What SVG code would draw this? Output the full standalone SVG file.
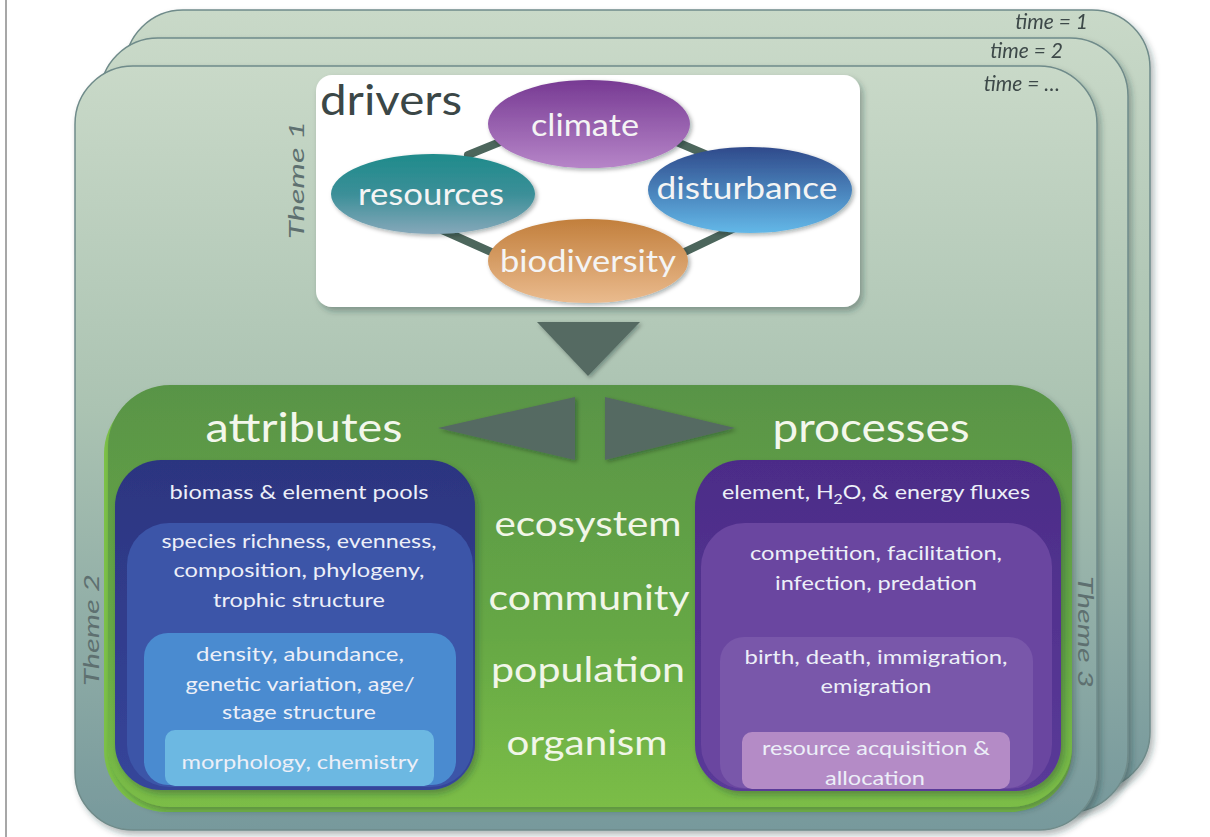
<svg xmlns="http://www.w3.org/2000/svg" width="1210" height="837" viewBox="0 0 1210 837">
<defs>
<linearGradient id="gCard" x1="0" y1="0" x2="0" y2="1">
<stop offset="0" stop-color="#c9d9c8"/><stop offset="0.45" stop-color="#abc3b2"/><stop offset="1" stop-color="#77999c"/>
</linearGradient>
<linearGradient id="gGreen" x1="0" y1="0" x2="0" y2="1">
<stop offset="0" stop-color="#599446"/><stop offset="0.6" stop-color="#66a845"/><stop offset="1" stop-color="#7bbd46"/>
</linearGradient>
<linearGradient id="gClimate" x1="0" y1="0" x2="0" y2="1">
<stop offset="0" stop-color="#773a93"/><stop offset="1" stop-color="#b685c8"/>
</linearGradient>
<linearGradient id="gRes" x1="0" y1="0" x2="0" y2="1">
<stop offset="0" stop-color="#1f8b8b"/><stop offset="0.5" stop-color="#3b8f98"/><stop offset="1" stop-color="#86a8ba"/>
</linearGradient>
<linearGradient id="gDist" x1="0" y1="0" x2="0" y2="1">
<stop offset="0" stop-color="#2f4a8b"/><stop offset="1" stop-color="#63b8e8"/>
</linearGradient>
<linearGradient id="gBio" x1="0" y1="0" x2="0" y2="1">
<stop offset="0" stop-color="#c27f3c"/><stop offset="1" stop-color="#eabb8e"/>
</linearGradient>
<linearGradient id="gNavy" x1="0" y1="0" x2="0" y2="1">
<stop offset="0" stop-color="#2c3580"/><stop offset="1" stop-color="#36459a"/>
</linearGradient>
<linearGradient id="gPurp" x1="0" y1="0" x2="0" y2="1">
<stop offset="0" stop-color="#4c2c88"/><stop offset="1" stop-color="#5a3a98"/>
</linearGradient>
<filter id="sh" x="-10%" y="-10%" width="125%" height="125%">
<feDropShadow dx="3" dy="4" stdDeviation="3" flood-color="#203030" flood-opacity="0.35"/>
</filter>
<filter id="shs" x="-10%" y="-10%" width="125%" height="125%">
<feDropShadow dx="2" dy="2" stdDeviation="2" flood-color="#102020" flood-opacity="0.35"/>
</filter>
</defs>
<style>
text{font-family:Lato,"Open Sans","Liberation Sans",sans-serif;}
.card{fill:url(#gCard);stroke:#6f8b8a;stroke-width:1.5;}
.time{font-style:italic;font-size:21px;fill:#3d4848;text-anchor:end;}
.theme{font-style:italic;font-size:21px;fill:#5e7070;text-anchor:middle;}
.ell{font-size:30px;fill:#f4f4f4;text-anchor:middle;}
.big{font-size:40px;fill:#f3f7ec;text-anchor:middle;}
.lvl{font-size:35px;fill:#f1f6e8;text-anchor:middle;}
.sm{font-size:19px;fill:#eceff8;text-anchor:middle;}
.tri{fill:#556a62;filter:url(#shs);}
.conn{stroke:#4c665c;stroke-width:8;stroke-linecap:round;fill:none;}
</style>
<line x1="6" y1="0" x2="6" y2="837" stroke="#8a8a8a" stroke-width="1.5"/>
<g id="card-time1" filter="url(#sh)">
<rect class="card" x="125" y="10" width="1025" height="780" rx="58"/>
<text class="time" x="1088" y="29">time = 1</text>
</g>
<g id="card-time2" filter="url(#sh)">
<rect class="card" x="100" y="38" width="1028" height="774" rx="58"/>
<text class="time" x="1063" y="58">time = 2</text>
</g>
<g id="card-timeN" filter="url(#sh)">
<rect class="card" x="75" y="66" width="1022" height="764" rx="58"/>
<text class="time" x="1060" y="91">time = …</text>
</g>
<g id="drivers">
<rect x="316" y="75" width="544" height="232" rx="16" fill="#ffffff" filter="url(#sh)"/>
<text x="320" y="115" font-size="42" fill="#3b4747" textLength="142" lengthAdjust="spacingAndGlyphs">drivers</text>
</g>
<text class="theme" transform="translate(304,180) rotate(-90)" textLength="118" lengthAdjust="spacingAndGlyphs">Theme 1</text>
<g id="connectors">
<line class="conn" x1="468" y1="155" x2="505" y2="140"/>
<line class="conn" x1="672" y1="140" x2="712" y2="157"/>
<line class="conn" x1="442" y1="230" x2="500" y2="256"/>
<line class="conn" x1="735" y1="228" x2="676" y2="256"/>
</g>
<g id="climate">
<ellipse cx="589" cy="124" rx="101" ry="44" fill="url(#gClimate)" filter="url(#shs)"/>
<text class="ell" x="585" y="136" textLength="108" lengthAdjust="spacingAndGlyphs">climate</text>
</g>
<g id="resources">
<ellipse cx="433" cy="194" rx="102" ry="40" fill="url(#gRes)" filter="url(#shs)"/>
<text class="ell" x="431" y="205" textLength="146" lengthAdjust="spacingAndGlyphs">resources</text>
</g>
<g id="disturbance">
<ellipse cx="750" cy="190" rx="102" ry="43" fill="url(#gDist)" filter="url(#shs)"/>
<text class="ell" x="747" y="199" textLength="181" lengthAdjust="spacingAndGlyphs">disturbance</text>
</g>
<g id="biodiversity">
<ellipse cx="588" cy="261" rx="100" ry="42" fill="url(#gBio)" filter="url(#shs)"/>
<text class="ell" x="588" y="272" textLength="176" lengthAdjust="spacingAndGlyphs">biodiversity</text>
</g>
<polygon id="arrow-down" class="tri" points="537,322 640,322 588,376"/>
<g id="green">
<rect x="104" y="392" width="968" height="420" rx="62" fill="#7cc148"/>
<rect x="108" y="385" width="964" height="422" rx="62" fill="url(#gGreen)" filter="url(#sh)"/>
<text class="big" x="304" y="442" textLength="197" lengthAdjust="spacingAndGlyphs">attributes</text>
<text class="big" x="871" y="442" textLength="197" lengthAdjust="spacingAndGlyphs">processes</text>
<text class="lvl" x="588" y="536" textLength="187" lengthAdjust="spacingAndGlyphs">ecosystem</text>
<text class="lvl" x="589" y="610" textLength="201" lengthAdjust="spacingAndGlyphs">community</text>
<text class="lvl" x="588" y="682" textLength="194" lengthAdjust="spacingAndGlyphs">population</text>
<text class="lvl" x="587" y="755" textLength="161" lengthAdjust="spacingAndGlyphs">organism</text>
</g>
<text class="theme" transform="translate(99,630) rotate(-90)" textLength="112" lengthAdjust="spacingAndGlyphs">Theme 2</text>
<text class="theme" transform="translate(1078,632) rotate(90)" textLength="112" lengthAdjust="spacingAndGlyphs">Theme 3</text>
<polygon id="arrow-left" class="tri" points="438,428 575,397 575,460"/>
<polygon id="arrow-right" class="tri" points="605,397 605,460 735,428"/>
<g id="attributes-ecosystem">
<rect x="115" y="460" width="360" height="330" rx="46" fill="url(#gNavy)" filter="url(#sh)"/>
<text class="sm" x="299" y="499" textLength="259" lengthAdjust="spacingAndGlyphs">biomass &amp; element pools</text>
</g>
<g id="attributes-community">
<rect x="127" y="523" width="346" height="264" rx="42" fill="#3c55a8"/>
<text class="sm" x="299" y="548" textLength="275" lengthAdjust="spacingAndGlyphs">species richness, evenness,</text>
<text class="sm" x="299" y="577" textLength="251" lengthAdjust="spacingAndGlyphs">composition, phylogeny,</text>
<text class="sm" x="299" y="607" textLength="172" lengthAdjust="spacingAndGlyphs">trophic structure</text>
</g>
<g id="attributes-population">
<rect x="144" y="633" width="312" height="152" rx="24" fill="#4a8bd0"/>
<text class="sm" x="300" y="661" textLength="208" lengthAdjust="spacingAndGlyphs">density, abundance,</text>
<text class="sm" x="300" y="691" textLength="229" lengthAdjust="spacingAndGlyphs">genetic variation, age/</text>
<text class="sm" x="299" y="719" textLength="154" lengthAdjust="spacingAndGlyphs">stage structure</text>
</g>
<g id="attributes-organism">
<rect x="165" y="730" width="269" height="56" rx="10" fill="#6cb8e2"/>
<text class="sm" x="300" y="769" textLength="237" lengthAdjust="spacingAndGlyphs">morphology, chemistry</text>
</g>
<g id="processes-ecosystem">
<rect x="695" y="460" width="366" height="331" rx="46" fill="url(#gPurp)" filter="url(#sh)"/>
<text class="sm" x="876" y="499" textLength="308" lengthAdjust="spacingAndGlyphs">element, H<tspan font-size="13" dy="5">2</tspan><tspan dy="-5">O, &amp; energy fluxes</tspan></text>
</g>
<g id="processes-community">
<rect x="701" y="523" width="351" height="266" rx="44" fill="#6a46a0"/>
<text class="sm" x="876" y="560" textLength="252" lengthAdjust="spacingAndGlyphs">competition, facilitation,</text>
<text class="sm" x="876" y="590" textLength="202" lengthAdjust="spacingAndGlyphs">infection, predation</text>
</g>
<g id="processes-population">
<rect x="720" y="637" width="313" height="151" rx="24" fill="#7957aa"/>
<text class="sm" x="876" y="664" textLength="263" lengthAdjust="spacingAndGlyphs">birth, death, immigration,</text>
<text class="sm" x="876" y="693" textLength="111" lengthAdjust="spacingAndGlyphs">emigration</text>
</g>
<g id="processes-organism">
<rect x="742" y="732" width="268" height="57" rx="10" fill="#b48bc6"/>
<text class="sm" x="876" y="755" textLength="228" lengthAdjust="spacingAndGlyphs">resource acquisition &amp;</text>
<text class="sm" x="875" y="785" textLength="100" lengthAdjust="spacingAndGlyphs">allocation</text>
</g>
</svg>
